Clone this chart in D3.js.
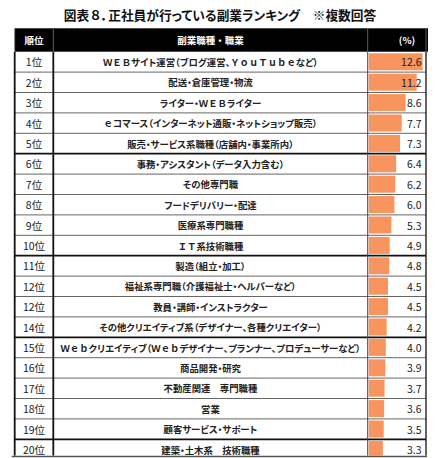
<!DOCTYPE html>
<html>
<head>
<meta charset="utf-8">
<script src="https://cdn.jsdelivr.net/npm/d3@7"></script>
<style>
  body { margin: 0; background: #fff; }
  svg text { font-family: "Noto Sans CJK JP", "Noto Sans", sans-serif; }
</style>
</head>
<body>
<div id="chart"></div>
<script>
var title = '図表８．正社員が行っている副業ランキング　※複数回答';
var headers = ['順位', '副業職種・職業', '(%)'];

var ranks = ['1位', '2位', '3位', '4位', '5位', '6位', '7位', '8位', '9位', '10位',
	'11位', '12位', '12位', '14位', '15位', '16位', '17位', '18位', '19位', '20位'];

var categories = [
	'ＷＥＢサイト運営（ブログ運営、ＹｏｕＴｕｂｅなど）',
	'配送・倉庫管理・物流',
	'ライター・ＷＥＢライター',
	'ｅコマース（インターネット通販・ネットショップ販売）',
	'販売・サービス系職種（店舗内・事業所内）',
	'事務・アシスタント（データ入力含む）',
	'その他専門職',
	'フードデリバリー・配達',
	'医療系専門職種',
	'ＩＴ系技術職種',
	'製造（組立・加工）',
	'福祉系専門職（介護福祉士・ヘルパーなど）',
	'教員・講師・インストラクター',
	'その他クリエイティブ系（デザイナー、各種クリエイター）',
	'Ｗｅｂクリエイティブ（Ｗｅｂデザイナー、プランナー、プロデューサーなど）',
	'商品開発・研究',
	'不動産関連　専門職種',
	'営業',
	'顧客サービス・サポート',
	'建築・土木系　技術職種'
];

var values = [12.6, 11.2, 8.6, 7.7, 7.3, 6.4, 6.2, 6.0, 5.3, 4.9,
	4.8, 4.5, 4.5, 4.2, 4.0, 3.9, 3.7, 3.6, 3.5, 3.3];

var W = 440, H = 458;
var tLeft = 14.7, colRank = 53.3, colBar = 367.7, tRight = 426;
var tTop = 28.3, headH = 23.4, rowH = 20.4;

var svg = d3.select('#chart')
	.append('svg')
		.attr('width', W)
		.attr('height', H);

// kana and punctuation get proportional widths, full-width latin stays wide
var fill = function(sel, str) {
	str.split(/([Ａ-Ｚａ-ｚ０-９]+)/).forEach(function(part, k) {
		if (!part) return;
		sel.append('tspan')
			.style('font-feature-settings', k % 2 ? 'normal' : '"palt"')
			.text(part);
	});
};

// title
svg.append('text')
	.attr('x', 220)
	.attr('y', 14)
	.attr('text-anchor', 'middle')
	.attr('dominant-baseline', 'central')
	.attr('font-size', 12.7)
	.attr('font-weight', 'bold')
	.attr('fill', '#111')
	.call(fill, title);

var idx = d3.range(values.length);
var y = d3.scaleBand()
	.domain(idx)
	.range([tTop + headH, tTop + headH + rowH * values.length]);

var x = d3.scaleLinear()
	.domain([0, 12.6])
	.range([colBar + 1, 422.7]);

// header band
svg.append('rect')
	.attr('x', tLeft)
	.attr('y', tTop)
	.attr('width', tRight - tLeft + 2)
	.attr('height', headH)
	.attr('fill', '#000');

var headX = [(tLeft + colRank) / 2, (colRank + colBar) / 2, 407];
svg.selectAll('text.head')
	.data(headers)
	.enter().append('text')
		.attr('class', 'head')
		.attr('x', function(d, i) { return headX[i]; })
		.attr('y', tTop + headH / 2)
		.attr('text-anchor', 'middle')
		.attr('dominant-baseline', 'central')
		.attr('font-size', 9.5)
		.attr('font-weight', 'bold')
		.attr('fill', '#fff')
		.text(function(d) { return d; });

// bars
svg.selectAll('rect.bar')
	.data(values)
	.enter().append('rect')
		.attr('class', 'bar')
		.attr('x', x(0))
		.attr('y', function(d, i) { return y(i) + 1.6; })
		.attr('width', function(d) { return x(d) - x(0); })
		.attr('height', y.bandwidth() - 3.4)
		.attr('fill', '#F8945E');

// row lines, thicker between groups
var thick = [4, 9, 13, 18];
svg.selectAll('line.row')
	.data(idx.slice(0, idx.length - 1))
	.enter().append('line')
		.attr('class', 'row')
		.attr('x1', tLeft)
		.attr('x2', tRight)
		.attr('y1', function(i) { return y(i) + rowH; })
		.attr('y2', function(i) { return y(i) + rowH; })
		.attr('stroke', function(i) { return thick.indexOf(i) >= 0 ? '#111' : '#666'; })
		.attr('stroke-width', function(i) { return thick.indexOf(i) >= 0 ? 1.8 : 1; });

// vertical lines
var yEnd = y(idx.length - 1) + rowH;
[[tLeft, 1.8, '#111'], [colRank, 1.8, '#111'], [colBar, 1, '#444'], [tRight, 1.4, '#222']].forEach(function(v) {
	svg.append('line')
		.attr('x1', v[0]).attr('x2', v[0])
		.attr('y1', tTop + headH).attr('y2', yEnd)
		.attr('stroke', v[2])
		.attr('stroke-width', v[1]);
	svg.append('line')
		.attr('x1', v[0]).attr('x2', v[0])
		.attr('y1', tTop).attr('y2', tTop + headH)
		.attr('stroke', '#777')
		.attr('stroke-width', 0.8);
});

// rank labels
svg.selectAll('text.rank')
	.data(ranks)
	.enter().append('text')
		.attr('class', 'rank')
		.attr('x', (tLeft + colRank) / 2)
		.attr('y', function(d, i) { return y(i) + rowH / 2; })
		.attr('text-anchor', 'middle')
		.attr('dominant-baseline', 'central')
		.attr('font-size', 10.5)
		.attr('fill', '#1a1a1a')
		.text(function(d) { return d; });

// category labels
svg.selectAll('text.cat')
	.data(categories)
	.enter().append('text')
		.attr('class', 'cat')
		.attr('x', (colRank + colBar) / 2)
		.attr('y', function(d, i) { return y(i) + rowH / 2; })
		.attr('text-anchor', 'middle')
		.attr('dominant-baseline', 'central')
		.attr('font-size', 9.4)
		.attr('font-weight', 'bold')
		.attr('fill', '#222')
		.each(function(d) { fill(d3.select(this), d); });

// value labels
svg.selectAll('text.val')
	.data(values)
	.enter().append('text')
		.attr('class', 'val')
		.attr('x', 421.5)
		.attr('y', function(d, i) { return y(i) + rowH / 2; })
		.attr('text-anchor', 'end')
		.attr('dominant-baseline', 'central')
		.attr('font-size', 10.5)
		.attr('fill', '#1a1a1a')
		.text(function(d) { return d.toFixed(1); });

// page edge at the bottom
svg.append('rect')
	.attr('x', 0).attr('y', 455.6)
	.attr('width', W).attr('height', H - 455.6)
	.attr('fill', '#fff');
svg.append('line')
	.attr('x1', 11.7).attr('x2', 427)
	.attr('y1', 456.5).attr('y2', 456.5)
	.attr('stroke', '#555')
	.attr('stroke-width', 1.6);
</script>
</body>
</html>
